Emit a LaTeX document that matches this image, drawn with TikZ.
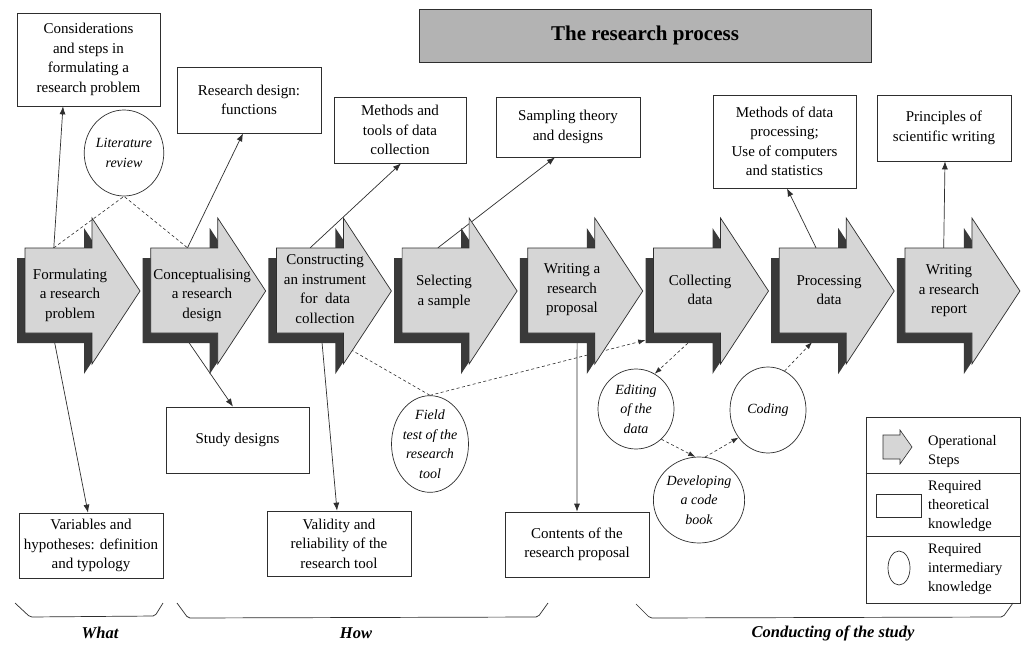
\documentclass[tikz,border=0pt]{standalone}
\usepackage{fontspec}
\setmainfont{Liberation Serif}
\usetikzlibrary{shapes.geometric,arrows.meta,backgrounds}
\definecolor{stepshadow}{HTML}{3A3A3A}
\definecolor{stepfillc}{HTML}{D6D6D6}
\definecolor{titlefill}{HTML}{B3B3B3}
\definecolor{inkc}{HTML}{2E2E2E}
\newcommand\mystep[5]{%
  \fill[stepshadow] ({#2-8},258) -- ++(67,0) -- ++(0,-30) -- ++(48,73) -- ++(-48,73) -- ++(0,-31) -- ++(-67,0) -- cycle;
  \filldraw[fill=stepfillc, draw=inkc, line width=0.7pt, line join=miter] (#2,248) -- ++(67,0) -- ++(0,-30) -- ++(48,73) -- ++(-48,73) -- ++(0,-31) -- ++(-67,0) -- cycle;
  \node[stepbody] (#1) at ({#2+33.5},290.5) {};
  \node[steptext] (#1-t) at (#3,#4) {#5};
}
\begin{document}
\begin{tikzpicture}[x=1pt,y=-1pt,
  box/.style={draw=inkc, line width=0.7pt, fill=white, rectangle, inner sep=0pt, align=center, font=\fontsize{15}{19.5}\selectfont},
  bubble/.style={draw=inkc, line width=0.7pt, fill=white, ellipse, inner sep=0pt, align=center, font=\fontsize{14}{19.5}\selectfont\itshape},
  stepbody/.style={rectangle, draw=none, minimum width=67pt, minimum height=85pt, inner sep=0pt},
  steptext/.style={align=center, inner sep=0pt, font=\fontsize{15}{19.5}\selectfont},
  con/.style={draw=inkc, line width=0.7pt, -{Latex[length=8pt,width=6pt]}},
  dcon/.style={draw=inkc, line width=0.6pt, dash pattern=on 3pt off 2.5pt, -{Latex[length=7pt,width=5pt]}},
  dline/.style={draw=inkc, line width=0.6pt, dash pattern=on 3pt off 2.5pt},
  legtext/.style={anchor=west, align=left, inner sep=0pt, font=\fontsize{14.5}{19}\selectfont},
  bracelab/.style={inner sep=0pt, font=\fontsize{16.5}{20}\selectfont\bfseries\itshape},
  bracepath/.style={draw=inkc, line width=0.7pt, rounded corners=2pt}
]
\useasboundingbox (0,0) rectangle (1027,647);
\begin{pgfonlayer}{background}
\fill[white] (0,0) rectangle (1027,647);
\end{pgfonlayer}

% title
\node[draw=inkc, line width=0.7pt, fill=titlefill, minimum width=452pt, minimum height=53pt, inner sep=0pt,
      font=\fontsize{21}{25}\selectfont\bfseries] (title) at (645,35.5) {The research process};

% knowledge boxes
\node[box, minimum width=143pt, minimum height=93pt] (b1) at (88.5,59.5) {Considerations\\and steps in\\formulating a\\research problem};
\node[box, minimum width=144pt, minimum height=66pt] (b2) at (249,100) {Research design:\\functions};
\node[box, minimum width=132pt, minimum height=66pt] (b3) at (400,130) {Methods and\\tools of data\\collection};
\node[box, minimum width=144pt, minimum height=60pt] (b4) at (568,127) {Sampling theory\\and designs};
\node[box, minimum width=143pt, minimum height=93pt] (b5) at (784.5,141.5) {Methods of data\\processing;\\Use of computers\\and statistics};
\node[box, minimum width=134pt, minimum height=66pt] (b6) at (944,128) {Principles of\\scientific writing};
\node[box, minimum width=144pt, minimum height=65pt] (b7) at (91,545.5) {Variables and\\hypotheses: definition\\and typology};
\node[box, minimum width=143pt, minimum height=66pt] (b8) at (237.5,440) {Study designs};
\node[box, minimum width=144pt, minimum height=65pt] (b9) at (339,543.5) {Validity and\\reliability of the\\research tool};
\node[box, minimum width=144pt, minimum height=65pt] (b10) at (577,544.5) {Contents of the\\research proposal};

% intermediary knowledge circles
\node[bubble, minimum width=66pt, minimum height=86pt] (lit) at (124,153) {Literature\\review};
\node[bubble, minimum width=76pt, minimum height=88pt] (field) at (430,444) {Field\\test of the\\research\\tool};
\node[bubble, minimum width=76pt, minimum height=80pt] (edit) at (636,409) {Editing\\of the\\data};
\node[bubble, minimum width=76pt, minimum height=86pt] (coding) at (768,410) {Coding};
\node[bubble, minimum width=72pt, minimum height=86pt] (dev) at (699,500) {Developing\\a code\\book};

% operational steps
\mystep{s1}{25}{70}{295}{Formulating\\a research\\problem}
\mystep{s2}{150.7}{202}{295}{Conceptualising\\a research\\design}
\mystep{s3}{276.4}{325}{289}{Constructing\\an instrument\\for~~data\\collection}
\mystep{s4}{402.1}{444}{292}{Selecting\\a sample}
\mystep{s5}{527.8}{572}{290}{Writing a\\research\\proposal}
\mystep{s6}{653.5}{700}{290}{Collecting\\data}
\mystep{s7}{779.2}{829}{290}{Processing\\data}
\mystep{s8}{904.9}{949}{291}{Writing\\a research\\report}

% connectors (behind the steps)
\begin{pgfonlayer}{background}
\draw[con] ([xshift=29pt]s1.north west) -- ([xshift=-25.5pt]b1.south);
\draw[con] ([xshift=28pt]s1.south west) -- ([xshift=-3pt]b7.north);
\draw[con] ([xshift=37pt]s2.north west) -- ([xshift=-6pt]b2.south);
\draw[con] ([xshift=32pt]s2.south west) -- ([xshift=-4.5pt]b8.north);
\draw[con] ([xshift=34pt]s3.north west) -- ([xshift=1pt]b3.south);
\draw[con] ([xshift=45pt]s3.south west) -- ([xshift=-2pt]b9.north);
\draw[con] ([xshift=36pt]s4.north west) -- ([xshift=-13pt]b4.south);
\draw[con] ([xshift=49.5pt]s5.south west) -- (b10.north);
\draw[con] ([xshift=37pt]s7.north west) -- ([xshift=2.5pt]b5.south);
\draw[con] ([xshift=39pt]s8.north west) -- ([xshift=1pt]b6.south);

\draw[dline] ([xshift=29pt]s1.north west) -- (lit.south) -- ([xshift=37pt]s2.north west);
\draw[dline] ([xshift=46pt]s3.south west) -- (field.north);
\draw[dcon] (field.north) -- ([xshift=-8pt,yshift=-7pt]s6.south west);
\draw[dcon] ([xshift=34.5pt,yshift=-10pt]s6.south west) -- (edit.62);
\draw[dcon] (edit.-50) -- (dev.95);
\draw[dcon] (dev.82) -- (coding.223);
\draw[dcon] (coding.67) -- ([xshift=33pt,yshift=-9pt]s7.south west);
\end{pgfonlayer}

% legend
\node[draw=inkc, line width=0.7pt, minimum width=154pt, minimum height=186pt, inner sep=0pt] (leg) at (943,510) {};
\coordinate (dv1) at (943,473);
\coordinate (dv2) at (943,536);
\draw[draw=inkc, line width=0.7pt] (leg.west |- dv1) -- (leg.east |- dv1);
\draw[draw=inkc, line width=0.7pt] (leg.west |- dv2) -- (leg.east |- dv2);
\filldraw[fill=stepfillc, draw=inkc, line width=0.6pt] (883,435) -- (900,435) -- (900,430) -- (912,447) -- (900,464) -- (900,459) -- (883,459) -- cycle;
\node[draw=inkc, line width=0.7pt, minimum width=45pt, minimum height=23pt, inner sep=0pt] (legrect) at (898.5,505.5) {};
\node[draw=inkc, line width=0.7pt, ellipse, minimum width=22pt, minimum height=34pt, inner sep=0pt] (legcirc) at (899,568) {};
\node[legtext] (lt1) at (928,452) {Operational\\Steps};
\node[legtext] (lt2) at (928,506) {Required\\theoretical\\knowledge};
\node[legtext] (lt3) at (928,569) {Required\\intermediary\\knowledge};

% braces and labels
\draw[bracepath] (15,603) -- (30,617) -- (155,616) -- (163,603);
\draw[bracepath] (177,603) -- (188,618) -- (538,617) -- (548,603);
\draw[bracepath] (636,604) -- (650,618) -- (1003,617) -- (1013,603);
\node[bracelab] (what) at (100,633) {What};
\node[bracelab] (how) at (356,633) {How};
\node[bracelab] (conduct) at (833,633) {Conducting of the study};
\end{tikzpicture}
\end{document}
